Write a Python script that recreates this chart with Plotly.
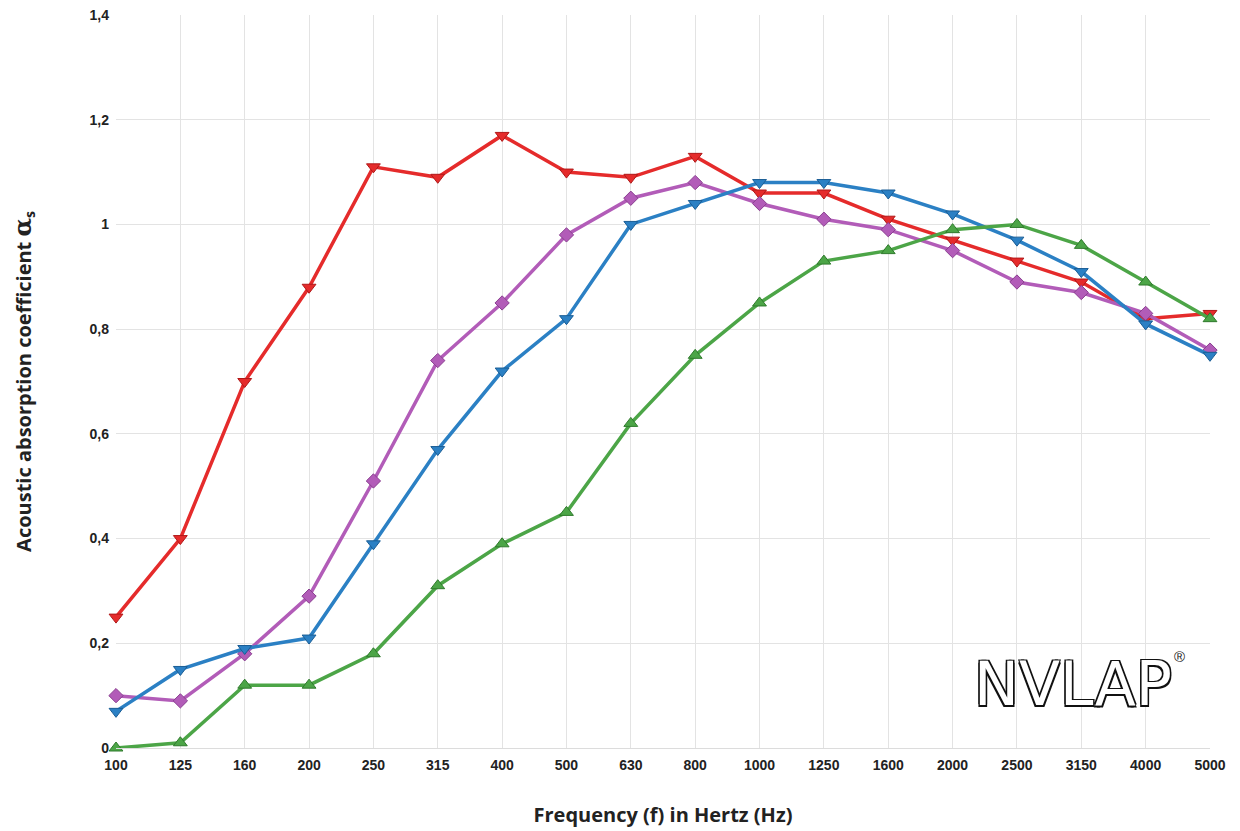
import plotly.graph_objects as go

freq_labels = ["100", "125", "160", "200", "250", "315", "400", "500", "630", "800",
               "1000", "1250", "1600", "2000", "2500", "3150", "4000", "5000"]
red_vals = [0.25, 0.40, 0.70, 0.88, 1.11, 1.09, 1.17, 1.10, 1.09, 1.13,
            1.06, 1.06, 1.01, 0.97, 0.93, 0.89, 0.82, 0.83]
blue_vals = [0.07, 0.15, 0.19, 0.21, 0.39, 0.57, 0.72, 0.82, 1.00, 1.04,
             1.08, 1.08, 1.06, 1.02, 0.97, 0.91, 0.81, 0.75]
purple_vals = [0.10, 0.09, 0.18, 0.29, 0.51, 0.74, 0.85, 0.98, 1.05, 1.08,
               1.04, 1.01, 0.99, 0.95, 0.89, 0.87, 0.83, 0.76]
green_vals = [0.00, 0.01, 0.12, 0.12, 0.18, 0.31, 0.39, 0.45, 0.62, 0.75,
              0.85, 0.93, 0.95, 0.99, 1.00, 0.96, 0.89, 0.82]
y_ticks = [0, 0.2, 0.4, 0.6, 0.8, 1.0, 1.2, 1.4]
y_tick_labels = ["0", "0,2", "0,4", "0,6", "0,8", "1", "1,2", "1,4"]

xi = list(range(len(freq_labels)))

fig = go.Figure()
series = [
    (red_vals, "#e52b2b", "#b01818", "triangle-down", 12),
    (purple_vals, "#b25cb8", "#8a3f90", "diamond", 11),
    (blue_vals, "#2b80c4", "#1a5d95", "triangle-down", 12),
    (green_vals, "#4ca547", "#2f7a2c", "triangle-up", 12),
]
for vals, col, edge, sym, sz in series:
    fig.add_trace(go.Scatter(
        x=xi, y=vals, mode="lines+markers",
        line=dict(color=col, width=3.5),
        marker=dict(symbol=sym, size=sz, color=col, line=dict(color=edge, width=1)),
        showlegend=False, cliponaxis=False,
    ))

fig.update_layout(
    width=1240, height=831,
    margin=dict(l=108, r=38, t=7, b=91),
    paper_bgcolor="white", plot_bgcolor="white",
    font=dict(family="Liberation Sans, Arial, sans-serif", color="#222"),
    xaxis=dict(
        range=[0, len(freq_labels) - 1],
        tickvals=xi, ticktext=freq_labels,
        tickfont=dict(size=14, family="Liberation Sans, Arial", color="#222", weight="bold"),
        showgrid=True, gridcolor="#e3e3e3", gridwidth=1,
        zeroline=False, showline=True, linecolor="#dcdcdc", linewidth=1,
        ticks="", ticklabelstandoff=4, automargin="bottom",
        title=dict(text="Frequency (f) in Hertz (Hz)",
                   font=dict(size=20, family="Open Sans, sans-serif", color="#222", weight="bold"),
                   standoff=36),
    ),
    yaxis=dict(
        range=[0, 1.4],
        tickvals=y_ticks, ticktext=y_tick_labels,
        tickfont=dict(size=14, family="Liberation Sans, Arial", color="#222", weight="bold"),
        showgrid=True, gridcolor="#e3e3e3", gridwidth=1,
        zeroline=False, showline=False,
        ticks="", ticklabelstandoff=6, ticklabeloverflow="allow", automargin="left",
        title=dict(text="Acoustic absorption coefficient <span style='font-family:DejaVu Serif;font-size:24px'>α</span><sub>s</sub>",
                   font=dict(size=20, family="Open Sans, sans-serif", color="#222", weight="bold"),
                   standoff=56),
    ),
)

fig.add_annotation(
    xref="paper", yref="paper", x=0.875, y=0.087, xanchor="center", yanchor="middle",
    text="NVLAP", showarrow=False,
    font=dict(size=60, family="DejaVu Sans, sans-serif", color="white",
              shadow="1.5px 1.5px 0 #111, -1.5px -1.5px 0 #111, 1.5px -1.5px 0 #111, -1.5px 1.5px 0 #111"),
)
fig.add_annotation(
    xref="paper", yref="paper", x=0.972, y=0.125, xanchor="center", yanchor="middle",
    text="®", showarrow=False, font=dict(size=15, color="#222"),
)

fig.write_html("out.html")
